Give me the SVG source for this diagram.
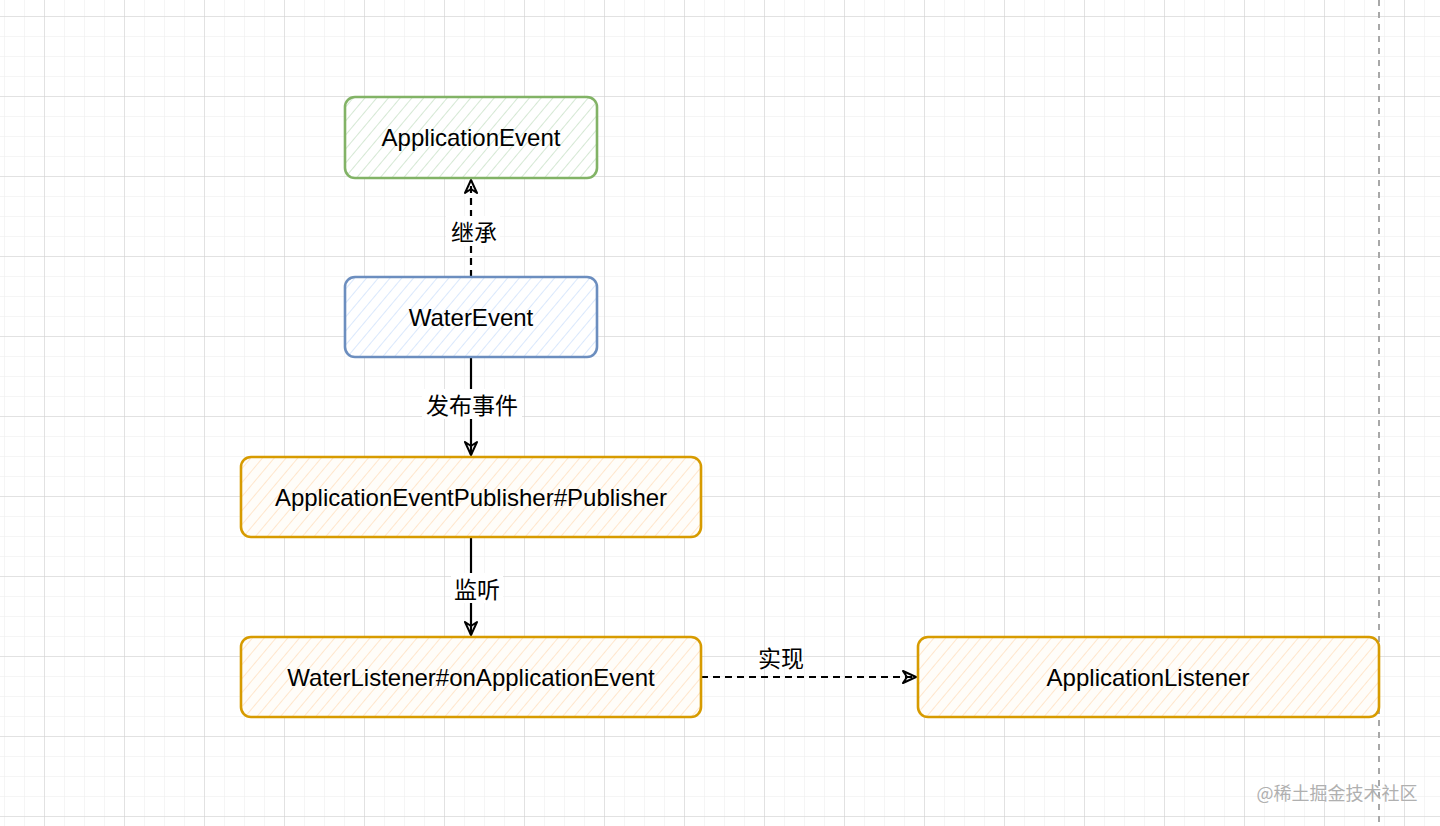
<svg xmlns="http://www.w3.org/2000/svg" width="1440" height="826" viewBox="0 0 1440 826">
<defs>
<pattern id="minor" x="4" y="16" width="20" height="20" patternUnits="userSpaceOnUse">
<path d="M0 0V20M0 0H20" fill="none" stroke="#ebebeb" stroke-width="1"/>
</pattern>
<pattern id="major" x="44" y="16" width="80" height="80" patternUnits="userSpaceOnUse">
<path d="M0 0V80M0 0H80" fill="none" stroke="#cfcfcf" stroke-width="1"/>
</pattern>
<pattern id="hg" width="9" height="9" patternUnits="userSpaceOnUse" patternTransform="rotate(40)">
<rect width="9" height="9" fill="#ffffff"/>
<line x1="0" y1="0" x2="0" y2="9" stroke="#d5e8d4" stroke-width="2"/>
</pattern>
<pattern id="hb" width="9" height="9" patternUnits="userSpaceOnUse" patternTransform="rotate(40)">
<rect width="9" height="9" fill="#ffffff"/>
<line x1="0" y1="0" x2="0" y2="9" stroke="#dae8fc" stroke-width="2"/>
</pattern>
<pattern id="ho" width="9" height="9" patternUnits="userSpaceOnUse" patternTransform="rotate(40)">
<rect width="9" height="9" fill="#fffdf9"/>
<line x1="0" y1="0" x2="0" y2="9" stroke="#ffe6cc" stroke-width="2"/>
</pattern>
<marker id="open" viewBox="0 0 16 16" refX="15" refY="8" markerWidth="16" markerHeight="16" markerUnits="userSpaceOnUse" orient="auto">
<path d="M2 2L15 8L2 14L6 8Z" fill="none" stroke="#000" stroke-width="2" stroke-linejoin="round"/>
</marker>
</defs>
<style>
.lbl{font-family:"Liberation Sans","Noto Sans CJK SC",sans-serif;font-size:24px;fill:#000;text-anchor:middle;dominant-baseline:central}
.elbl{font-family:"Noto Sans CJK SC","Liberation Sans",sans-serif;font-size:23px;fill:#000;text-anchor:middle;dominant-baseline:central}
.box{stroke-width:2.6}
.edge{fill:none;stroke:#000;stroke-width:2.2}
.dash{stroke-dasharray:7 5}
</style>
<rect width="1440" height="826" fill="#ffffff"/>
<rect width="1440" height="826" fill="url(#minor)"/>
<rect width="1440" height="826" fill="url(#major)"/>
<line x1="1379" y1="0" x2="1379" y2="826" stroke="#a8a8a8" stroke-width="2" stroke-dasharray="6 6"/>

<g id="connectors">
<g id="e-inherit">
<path class="edge dash" d="M471 277V180" marker-end="url(#open)"/>
<rect x="446" y="216" width="54" height="30" fill="#ffffff"/>
<text class="elbl" x="474" y="231">继承</text>
</g>
<g id="e-publish">
<path class="edge" d="M471 357V455" marker-end="url(#open)"/>
<rect x="422" y="389" width="100" height="30" fill="#ffffff"/>
<text class="elbl" x="472" y="404">发布事件</text>
</g>
<g id="e-listen">
<path class="edge" d="M471 537V635" marker-end="url(#open)"/>
<rect x="451" y="573" width="52" height="30" fill="#ffffff"/>
<text class="elbl" x="477" y="588">监听</text>
</g>
<g id="e-impl">
<path class="edge dash" d="M701 677H916" marker-end="url(#open)"/>
<text class="elbl" x="781" y="657">实现</text>
</g>
</g>

<g id="n-applicationevent">
<rect class="box" x="345" y="97" width="252" height="81" rx="10" fill="url(#hg)" stroke="#82b366"/>
<text class="lbl" x="471" y="137">ApplicationEvent</text>
</g>
<g id="n-waterevent">
<rect class="box" x="345" y="277" width="252" height="80" rx="10" fill="url(#hb)" stroke="#6c8ebf"/>
<text class="lbl" x="471" y="317">WaterEvent</text>
</g>
<g id="n-publisher">
<rect class="box" x="241" y="457" width="460" height="80" rx="10" fill="url(#ho)" stroke="#d79b00"/>
<text class="lbl" x="471" y="497">ApplicationEventPublisher#Publisher</text>
</g>
<g id="n-waterlistener">
<rect class="box" x="241" y="637" width="460" height="80" rx="10" fill="url(#ho)" stroke="#d79b00"/>
<text class="lbl" x="471" y="677">WaterListener#onApplicationEvent</text>
</g>
<g id="n-applicationlistener">
<rect class="box" x="918" y="637" width="461" height="80" rx="10" fill="url(#ho)" stroke="#d79b00"/>
<text class="lbl" x="1148" y="677">ApplicationListener</text>
</g>

<text x="1337" y="792" font-family="Noto Sans CJK SC,sans-serif" font-size="18" fill="#b0b0b0" text-anchor="middle" dominant-baseline="central">@稀土掘金技术社区</text>
</svg>
